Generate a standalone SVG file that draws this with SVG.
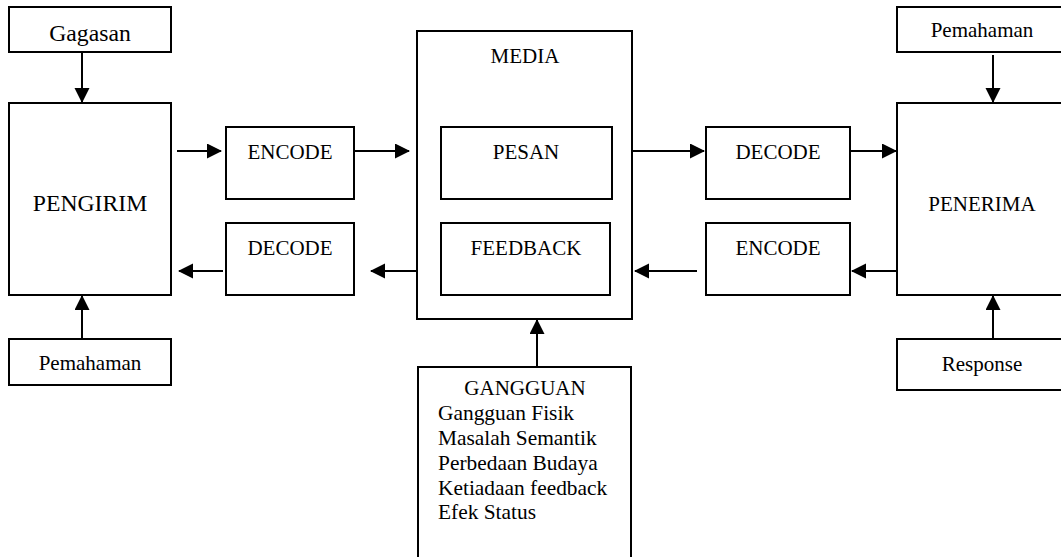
<svg xmlns="http://www.w3.org/2000/svg" width="1061" height="557" viewBox="0 0 1061 557">
<style>
.box{fill:#fff;stroke:#000;stroke-width:2}
.t{font-family:"Liberation Serif","Times New Roman",serif;font-size:21px;fill:#000;text-anchor:middle}
.tl{font-family:"Liberation Serif","Times New Roman",serif;font-size:21.4px;fill:#000}
.big{font-size:23.7px}
.c{fill:none;stroke:#000;stroke-width:2;marker-end:url(#ah)}
</style>
<defs>
<marker id="ah" markerUnits="userSpaceOnUse" markerWidth="16" markerHeight="16" refX="14" refY="7.5" orient="auto">
<path d="M0,0 L15,7.5 L0,15 z" fill="#000"/>
</marker>
</defs>
<rect width="1061" height="557" fill="#fff"/>
<g id="gagasan"><rect class="box" x="9" y="7" width="162" height="45"/><text class="t big" x="90" y="40.5">Gagasan</text></g>
<g id="pengirim"><rect class="box" x="9" y="103" width="162" height="192"/><text class="t big" x="90" y="210.5">PENGIRIM</text></g>
<g id="pemahaman-kiri"><rect class="box" x="9" y="339" width="162" height="46"/><text class="t" x="90" y="370">Pemahaman</text></g>
<g id="encode-kiri"><rect class="box" x="226" y="127" width="128" height="72"/><text class="t" x="290" y="158.5">ENCODE</text></g>
<g id="decode-kiri"><rect class="box" x="226" y="223" width="128" height="72"/><text class="t" x="290" y="254.5">DECODE</text></g>
<g id="media"><rect class="box" x="417" y="31" width="215" height="288"/><text class="t" x="525" y="62.5">MEDIA</text></g>
<g id="pesan"><rect class="box" x="441" y="127" width="171" height="72"/><text class="t" x="526" y="158.5">PESAN</text></g>
<g id="feedback"><rect class="box" x="441" y="223" width="169" height="72"/><text class="t" x="526" y="254.5">FEEDBACK</text></g>
<g id="decode-kanan"><rect class="box" x="706" y="127" width="144" height="72"/><text class="t" x="778" y="158.5">DECODE</text></g>
<g id="encode-kanan"><rect class="box" x="706" y="223" width="144" height="72"/><text class="t" x="778" y="254.5">ENCODE</text></g>
<g id="pemahaman-kanan"><rect class="box" x="897" y="7" width="180" height="45"/><text class="t" x="982" y="36.7">Pemahaman</text></g>
<g id="penerima"><rect class="box" x="897" y="103" width="180" height="192"/><text class="t" x="982" y="210.5">PENERIMA</text></g>
<g id="response"><rect class="box" x="897" y="339" width="180" height="51"/><text class="t" x="982" y="371">Response</text></g>
<g id="gangguan"><rect class="box" x="418" y="367" width="213" height="200"/>
<text class="t" x="525" y="395">GANGGUAN</text>
<text class="tl" x="438" y="420">Gangguan Fisik</text>
<text class="tl" x="438" y="445">Masalah Semantik</text>
<text class="tl" x="438" y="470">Perbedaan Budaya</text>
<text class="tl" x="438" y="494.5">Ketiadaan feedback</text>
<text class="tl" x="438" y="519">Efek Status</text>
</g>
<g id="connectors">
<path class="c" d="M82,52 V102"/>
<path class="c" d="M82,339 V296"/>
<path class="c" d="M177,151 H221"/>
<path class="c" d="M354,151 H409"/>
<path class="c" d="M632,151 H704"/>
<path class="c" d="M850,151 H896"/>
<path class="c" d="M897,271 H852"/>
<path class="c" d="M697,271 H635"/>
<path class="c" d="M417,271 H371"/>
<path class="c" d="M223,271 H179"/>
<path class="c" d="M537,367 V320"/>
<path class="c" d="M993,55 V102"/>
<path class="c" d="M993,339 V296"/>
</g>
</svg>
